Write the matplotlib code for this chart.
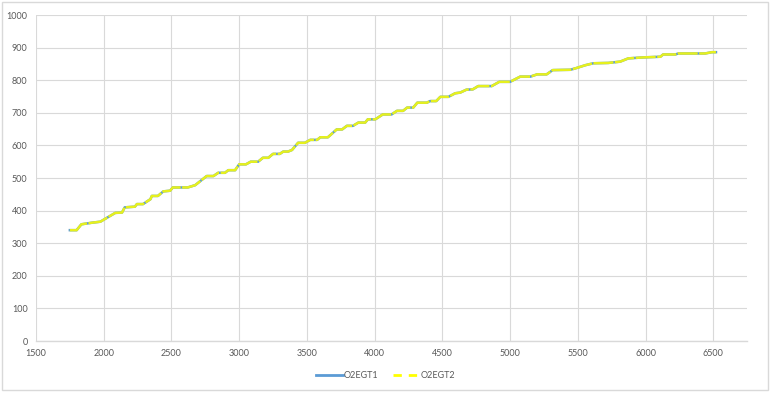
import matplotlib
matplotlib.use("Agg")
import matplotlib.pyplot as plt
from matplotlib.lines import Line2D
from matplotlib.patches import Rectangle

plt.rcParams['font.family'] = ['Lato', 'DejaVu Sans']

# data (staircase vertices)
rpm = [1750, 1800, 1835, 1915, 1975, 2085, 2135, 2155, 2230, 2245, 2290,
       2345, 2355, 2400, 2440, 2490, 2510, 2620, 2675, 2760, 2810, 2845,
       2895, 2920, 2970, 3000, 3050, 3085, 3140, 3175, 3215, 3250, 3300,
       3325, 3360, 3390, 3435, 3485, 3525, 3575, 3600, 3655, 3720, 3760,
       3795, 3840, 3880, 3930, 3950, 4005, 4060, 4125, 4165, 4210, 4240,
       4285, 4315, 4385, 4410, 4455, 4485, 4545, 4595, 4632, 4678, 4725,
       4765, 4865, 4920, 5000, 5075, 5150, 5200, 5270, 5315, 5445, 5495,
       5555, 5615, 5725, 5813, 5873, 5985, 6110, 6130, 6220, 6242, 6440,
       6490, 6520]
o2egt1 = [340, 340, 358, 363, 366, 393, 394, 410, 412, 420, 420,
          435, 445, 445, 459, 461, 471, 471, 478, 506, 506, 516,
          516, 524, 524, 542, 542, 550, 550, 562, 562, 574, 574,
          581, 581, 586, 608, 608, 617, 617, 625, 625, 649, 649,
          660, 660, 670, 670, 680, 680, 695, 695, 706, 706, 716,
          716, 731, 731, 736, 736, 749, 749, 760, 762, 771, 772,
          782, 782, 795, 795, 811, 811, 818, 818, 831, 832, 838,
          846, 852, 853, 857, 867, 870, 872, 879, 879, 882, 882,
          886, 886]
o2egt2 = list(o2egt1)

x_ticks = [1500, 2000, 2500, 3000, 3500, 4000, 4500, 5000, 5500, 6000, 6500]
y_ticks = [0, 100, 200, 300, 400, 500, 600, 700, 800, 900, 1000]

BLUE = '#5b9bd5'
YELLOW = '#e6f01e'
GRID = '#d9d9d9'
TXT = '#595959'

fig = plt.figure(figsize=(7.71, 3.93), dpi=100)
ax = fig.add_axes([0.0467, 0.1323, 0.9223, 0.8295])

ax.plot(rpm, o2egt1, color=BLUE, lw=1.8, solid_joinstyle='round', zorder=3)
ax.plot(rpm, o2egt2, color=YELLOW, lw=1.8, linestyle=(0, (8, 0.6)),
        solid_joinstyle='round', zorder=4)

ax.set_xlim(1500, 6750)
ax.set_ylim(0, 1000)
ax.set_xticks(x_ticks)
ax.set_yticks(y_ticks)
ax.grid(True, color=GRID, lw=0.8)
ax.set_axisbelow(True)
for s in ['top', 'right', 'left']:
    ax.spines[s].set_visible(False)
ax.spines['bottom'].set_color(GRID)
ax.spines['bottom'].set_linewidth(1.0)
ax.tick_params(length=0, labelsize=6.5, labelcolor=TXT, pad=6)

handles = [Line2D([], [], color=BLUE, lw=2),
           Line2D([], [], color='#ffff00', lw=2, linestyle=(0, (3, 2.5)))]
fig.legend(handles, ['O2EGT1', 'O2EGT2'], loc='center', bbox_to_anchor=(0.5, 0.045),
           ncol=2, frameon=False, fontsize=6.5, labelcolor=TXT,
           handlelength=3.0, handletextpad=0.1, columnspacing=1.6)

fig.patches.append(Rectangle((0.003, 0.008), 0.993, 0.987, transform=fig.transFigure,
                             fill=False, edgecolor=GRID, lw=1.0))

fig.savefig('out.png', dpi=100)
